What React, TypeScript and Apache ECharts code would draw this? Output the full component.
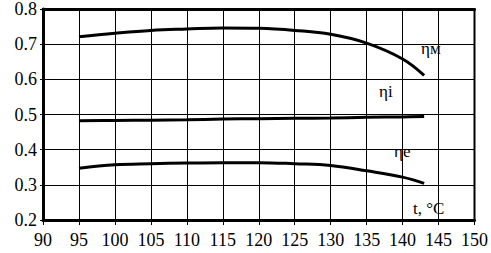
import React, { useEffect, useRef } from "react";
import * as echarts from "echarts";

const temps = [95, 100, 105, 110, 115, 120, 125, 130, 135, 140, 143];
const etaM = [0.721, 0.731, 0.739, 0.743, 0.746, 0.745, 0.739, 0.728, 0.703, 0.658, 0.611];
const etaI = [0.482, 0.483, 0.484, 0.485, 0.487, 0.488, 0.489, 0.490, 0.492, 0.493, 0.494];
const etaE = [0.347, 0.357, 0.360, 0.362, 0.363, 0.363, 0.360, 0.355, 0.340, 0.322, 0.304];

const xTicks = { min: 90, max: 150, interval: 5 };
const yTicks = { min: 0.2, max: 0.8, interval: 0.1 };

const FONT = "serif";

export default function App() {
  const ref = useRef<HTMLDivElement>(null);
  useEffect(() => {
    const chart = echarts.init(ref.current!, null, { renderer: "svg" });
    const mk = (d: number[]) => ({
      type: "line",
      data: temps.map((t, i) => [t, d[i]]),
      smooth: 0.4,
      symbol: "none",
      lineStyle: { color: "#000", width: 3 },
      xAxisIndex: 0,
      yAxisIndex: 0,
    });
    const txt = (text: string, left: number, top: number) => ({
      type: "text",
      left,
      top,
      style: { text, fontFamily: FONT, fontSize: 17, fill: "#000" },
    });
    chart.setOption({
      animation: false,
      textStyle: { fontFamily: FONT },
      grid: { left: 43, right: 15, top: 7, bottom: 33, show: true, borderColor: "#000", borderWidth: 2 },
      xAxis: [
        {
          type: "value",
          min: xTicks.min,
          max: xTicks.max,
          interval: xTicks.interval,
          axisLine: { show: true, lineStyle: { color: "#000", width: 3 } },
          axisTick: { show: true, length: 5, lineStyle: { color: "#000", width: 1 } },
          axisLabel: { color: "#000", fontFamily: FONT, fontSize: 18, margin: 11, showMaxLabel: true, showMinLabel: true },
          splitLine: { show: true, lineStyle: { color: "#000", width: 1 } },
        },
        {
          type: "value",
          position: "top",
          min: xTicks.min,
          max: xTicks.max,
          axisLine: { show: true, lineStyle: { color: "#000", width: 3 } },
          axisTick: { show: false },
          axisLabel: { show: false },
          splitLine: { show: false },
        },
      ],
      yAxis: {
        type: "value",
        min: yTicks.min,
        max: yTicks.max,
        interval: yTicks.interval,
        axisLine: { show: true, lineStyle: { color: "#000", width: 3 } },
        axisTick: { show: true, length: 3, lineStyle: { color: "#000", width: 1 } },
        axisLabel: {
          color: "#000",
          fontFamily: FONT,
          fontSize: 18,
          margin: 6,
          formatter: (v: number) => v.toFixed(1),
        },
        splitLine: { show: true, lineStyle: { color: "#000", width: 1 } },
      },
      graphic: [
        txt("ηм", 421, 40),
        txt("ηi", 379, 83),
        txt("ηe", 394, 143),
        txt("t, °C", 413, 200),
      ],
      series: [mk(etaM), mk(etaI), mk(etaE)],
    });
    return () => chart.dispose();
  }, []);
  return <div ref={ref} style={{ width: 491, height: 253, position: "absolute", left: 0, top: 0, background: "#fff" }} />;
}
